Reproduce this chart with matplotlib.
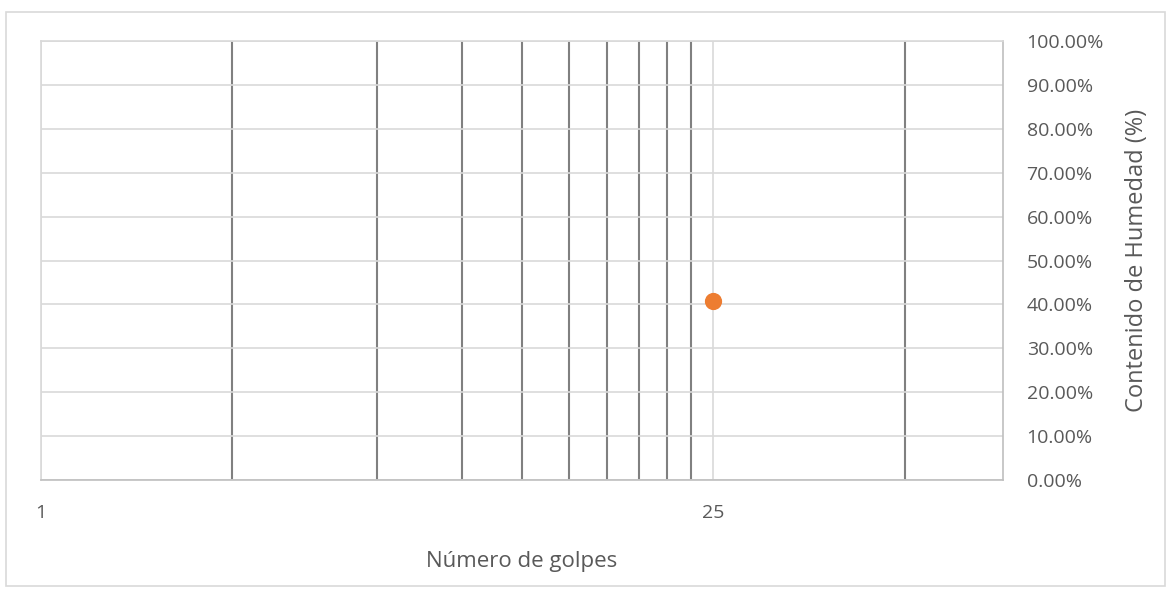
import matplotlib.pyplot as plt
from matplotlib.ticker import FixedLocator, PercentFormatter, NullFormatter
from matplotlib.patches import Rectangle

# moisture content vs number of blows (log axis, base 25)
golpes = [25]
humedad = [0.408]

x_min, x_max = 1, 100
log_base = 25
major_x = [1, 25]
y_ticks = [i / 10 for i in range(11)]

# minor gridlines at base^(n+1) * k/10, k = 1..9
minor_x = []
for n in range(2):
    for k in range(1, 10):
        v = log_base ** (n + 1) * k / 10
        if x_min < v < x_max and v not in major_x:
            minor_x.append(v)

txt = '#595959'
plt.rcParams['font.family'] = ['Open Sans', 'DejaVu Sans']

fig = plt.figure(figsize=(11.71, 5.92), dpi=100)
fig.patches.append(Rectangle((6 / 1171, 6 / 592), 1159 / 1171, 574 / 592,
                             transform=fig.transFigure, fill=False,
                             edgecolor='#d9d9d9', linewidth=1.2))

ax = fig.add_axes([41 / 1171, 112 / 592, 962 / 1171, 439 / 592])
ax.set_xscale('log', base=log_base)
ax.set_xlim(x_min, x_max)
ax.set_ylim(0, 1)

ax.xaxis.set_major_locator(FixedLocator(major_x))
ax.xaxis.set_minor_locator(FixedLocator(minor_x))
ax.xaxis.set_major_formatter(plt.FuncFormatter(lambda v, p: '%g' % v))
ax.xaxis.set_minor_formatter(NullFormatter())
ax.set_yticks(y_ticks)
ax.yaxis.set_major_formatter(PercentFormatter(1.0, decimals=2))
ax.yaxis.tick_right()
ax.yaxis.set_label_position('right')

ax.grid(True, which='major', color='#d9d9d9', linewidth=1.2)
ax.grid(True, which='minor', axis='x', color='#808080', linewidth=1.5)
ax.set_axisbelow(True)

for s in ax.spines.values():
    s.set_color('#d9d9d9')
    s.set_linewidth(1.2)
ax.spines['bottom'].set_color('#bfbfbf')
ax.spines['right'].set_color('#bfbfbf')

ax.tick_params(which='both', length=0, colors=txt, labelsize=14)
ax.tick_params(axis='x', pad=17)
ax.tick_params(axis='y', pad=17)

ax.scatter(golpes, humedad, s=130, color='#ED7D31', zorder=3, clip_on=False)

ax.set_xlabel('Número de golpes', color=txt, fontsize=16, labelpad=21)
ax.set_ylabel('Contenido de Humedad (%)', color=txt, fontsize=17, labelpad=15)

fig.savefig('out.png', dpi=100)
